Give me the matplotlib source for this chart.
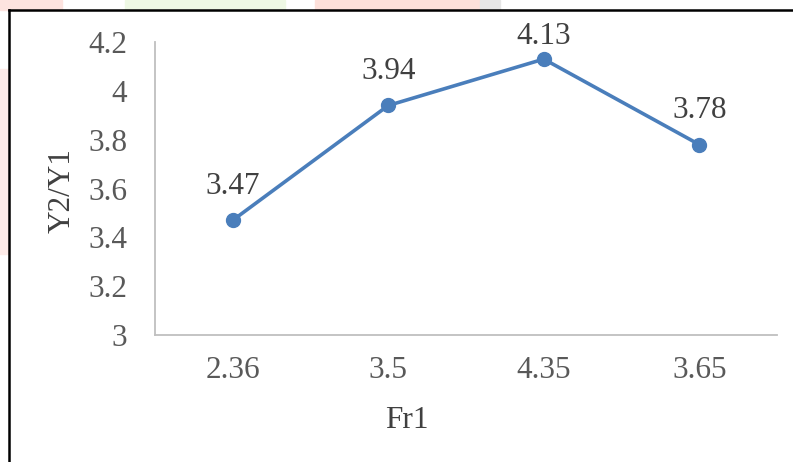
import matplotlib
matplotlib.use("Agg")
import matplotlib.pyplot as plt
from matplotlib.patches import Rectangle

categories = ["2.36", "3.5", "4.35", "3.65"]
ratio = [3.47, 3.94, 4.13, 3.78]
yticks = [3, 3.2, 3.4, 3.6, 3.8, 4, 4.2]
ytick_labels = ["3", "3.2", "3.4", "3.6", "3.8", "4", "4.2"]

plt.rcParams["font.family"] = ["Liberation Serif", "DejaVu Serif"]
FS = 22.5

W, H = 793, 462
fig = plt.figure(figsize=(W / 100, H / 100), dpi=100)

# faint watermark strips outside the chart frame
for x0, x1, col in [(0, 62, "#fde3df"), (125, 285, "#eef8e4"), (315, 480, "#fde0da"), (480, 500, "#e6e6e6")]:
    fig.patches.append(Rectangle((x0 / W, 1 - 10 / H), (x1 - x0) / W, 10 / H,
                                 transform=fig.transFigure, color=col, zorder=0))
fig.patches.append(Rectangle((0, 0.45), 9 / W, 0.4, transform=fig.transFigure,
                             color="#fdebe8", zorder=0))
# chart frame (top and left edges visible)
fig.add_artist(plt.Line2D([9 / W, 1], [1 - 10 / H, 1 - 10 / H], transform=fig.transFigure,
                          color="black", lw=1.8))
fig.add_artist(plt.Line2D([9 / W, 9 / W], [0, 1 - 10 / H], transform=fig.transFigure,
                          color="black", lw=1.8))

ax = fig.add_axes([155 / W, (H - 335) / H, 622 / W, 293 / H])
x = list(range(len(categories)))
ax.plot(x, ratio, color="#4a7ebb", lw=2.6, marker="o", ms=10, zorder=3, clip_on=False)

ax.set_xlim(-0.5, len(categories) - 0.5)
ax.set_ylim(3, 4.2)
ax.set_xticks(x, categories)
ax.set_yticks(yticks, ytick_labels)
ax.tick_params(length=0, labelsize=FS, colors="#595959")
ax.tick_params(axis="x", pad=15)
ax.tick_params(axis="y", pad=20)
for s in ["top", "right"]:
    ax.spines[s].set_visible(False)
for s in ["left", "bottom"]:
    ax.spines[s].set_color("#bfbfbf")
    ax.spines[s].set_linewidth(1.3)

# data labels above the points, pushed down when near the frame top
for xi, v in zip(x, ratio):
    px = ax.transData.transform((xi, v))[1]
    top_px = fig.bbox.height - 36
    off = min(34, top_px - px)
    ax.annotate(f"{v:.2f}", (xi, v), xytext=(0, off * 72 / 100), textcoords="offset points",
                ha="center", va="center", fontsize=FS, color="#404040")

fig.text(62 / W, 1 - 191 / H, "Y2/Y1", rotation=90, ha="center", va="center",
         fontsize=FS, color="#404040")
fig.text(407 / W, 1 - 421 / H, "Fr1", ha="center", va="center", fontsize=FS, color="#404040")

fig.savefig("out.png", dpi=100)
